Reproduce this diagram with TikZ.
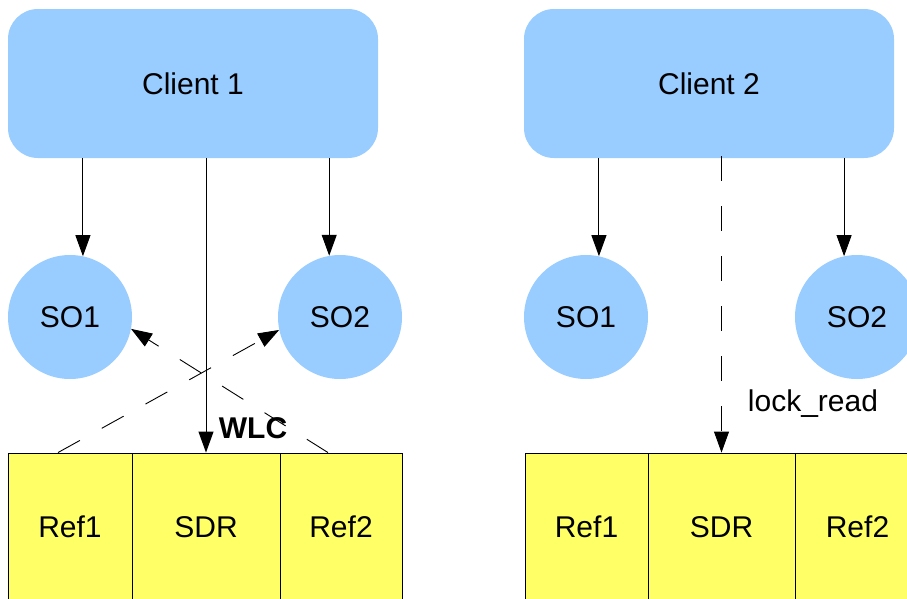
\documentclass[tikz,border=0pt]{standalone}
\usepackage{fontspec}
\setmainfont{Liberation Sans}
\usetikzlibrary{arrows.meta}
\definecolor{objblue}{HTML}{99CCFF}
\definecolor{refyellow}{HTML}{FFFF66}
\begin{document}
\begin{tikzpicture}[x=1pt,y=-1pt,
  lbl/.style={font=\fontsize{30}{35}\selectfont},
  client/.style={lbl,fill=objblue,rounded corners=30pt,minimum width=370pt,minimum height=149pt,inner sep=0pt},
  sobj/.style={lbl,circle,fill=objblue,minimum size=124pt,inner sep=0pt},
  cell/.style={lbl,draw=black,line width=0.9pt,fill=refyellow,minimum height=148pt,inner sep=0pt},
  arr/.style={line width=0.9pt,-{Triangle[length=21pt,width=15pt]}},
  dasharr/.style={arr,dash pattern=on 25pt off 25pt}]
\useasboundingbox (0,0) rectangle (907,598);
\clip (0,0) rectangle (907,598);

% left group
\node[client] (c1) at (193,83.5) {Client 1};
\node[sobj] (so1l) at (70,317) {SO1};
\node[sobj] (so2l) at (340,317) {SO2};
\node[cell,minimum width=124pt] (ref1l) at (70,527) {Ref1};
\node[cell,minimum width=148pt] (sdrl) at (206,527) {SDR};
\node[cell,minimum width=122pt] (ref2l) at (341,527) {Ref2};

\draw[arr] (so1l.78 |- c1.south) -- (so1l.78);
\draw[arr] (so2l.100 |- c1.south) -- (so2l.100);
\draw[arr] (c1.south -| sdrl.north) -- (sdrl.north);
\draw[dasharr] ([xshift=-12pt]ref1l.north) -- (so2l.192);
\draw[dasharr] ([xshift=-13pt]ref2l.north) -- (so1l.349);
\node[lbl,font=\fontsize{30}{35}\selectfont\bfseries] (wlc) at (253,428) {WLC};

% right group
\node[client] (c2) at (709,83.5) {Client 2};
\node[sobj] (so1r) at (586,317) {SO1};
\node[sobj] (so2r) at (857,317) {SO2};
\node[cell,minimum width=123pt] (ref1r) at (586.5,527) {Ref1};
\node[cell,minimum width=147pt] (sdrr) at (721.5,527) {SDR};
\node[cell,minimum width=125pt] (ref2r) at (857.5,527) {Ref2};

\draw[arr] (so1r.78 |- c2.south) -- (so1r.78);
\draw[arr] (so2r.102 |- c2.south) -- (so2r.102);
\draw[dasharr] ([yshift=2pt]c2.south -| sdrr.north) -- (sdrr.north);
\node[lbl] (lockread) at (813,404) {lock\_read};
\end{tikzpicture}
\end{document}
